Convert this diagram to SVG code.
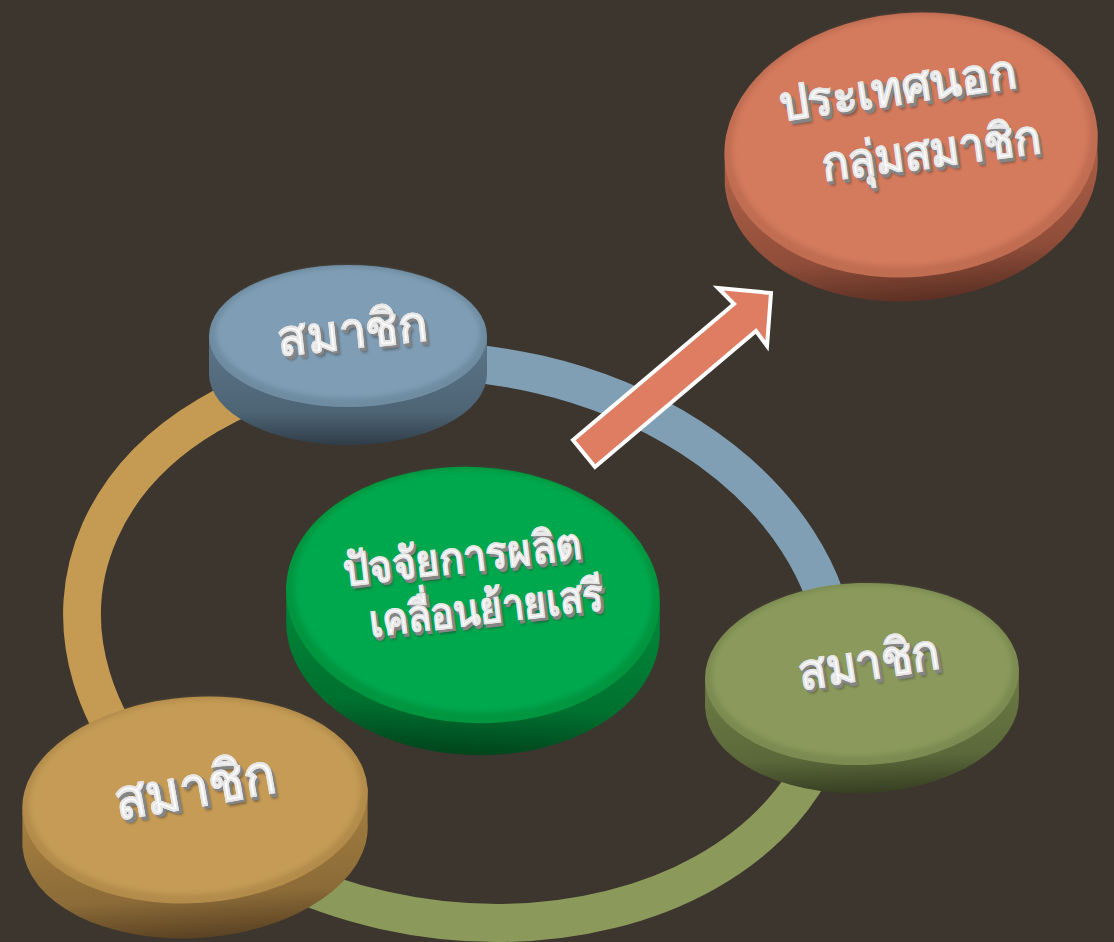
<svg xmlns="http://www.w3.org/2000/svg" width="1114" height="942" viewBox="0 0 1114 942">
  <defs>
    <style>
      .ring { fill: none; stroke-width: 38; stroke-linecap: butt; }
      .lbl { font-family: "Noto Sans", "DejaVu Sans", sans-serif; font-weight: bold; text-anchor: middle; }
      .ds { fill: #2a2a2a; opacity: 0.45; }
      .sh { fill: #858585; stroke: #858585; stroke-width: 1.2; }
      .tx { fill: #ffffff; stroke: #e6e6e6; stroke-width: 0.5; }
    </style>
    <filter id="soft" x="-10%" y="-10%" width="120%" height="120%">
      <feGaussianBlur stdDeviation="2.5"/>
    </filter>
    <filter id="blur1" x="-10%" y="-30%" width="120%" height="160%">
      <feGaussianBlur stdDeviation="1.2"/>
    </filter>
    <linearGradient id="wBlue" x1="0" y1="0" x2="0" y2="1">
      <stop offset="0" stop-color="#5d7688"/><stop offset="0.7" stop-color="#4d6475"/><stop offset="1" stop-color="#303d48"/>
    </linearGradient>
    <linearGradient id="wGold" x1="0" y1="0" x2="0" y2="1">
      <stop offset="0" stop-color="#a5803f"/><stop offset="0.7" stop-color="#8c6b38"/><stop offset="1" stop-color="#5a4223"/>
    </linearGradient>
    <linearGradient id="wOlive" x1="0" y1="0" x2="0" y2="1">
      <stop offset="0" stop-color="#6e7c45"/><stop offset="0.7" stop-color="#5b683a"/><stop offset="1" stop-color="#373f22"/>
    </linearGradient>
    <linearGradient id="wGreen" x1="0" y1="0" x2="0" y2="1">
      <stop offset="0" stop-color="#008a3c"/><stop offset="0.7" stop-color="#00702f"/><stop offset="1" stop-color="#00441c"/>
    </linearGradient>
    <linearGradient id="wOrange" x1="0" y1="0" x2="0" y2="1">
      <stop offset="0" stop-color="#b0624a"/><stop offset="0.7" stop-color="#8f4d39"/><stop offset="1" stop-color="#5c3024"/>
    </linearGradient>
  </defs>

  <rect x="0" y="0" width="1114" height="942" fill="#3d362e"/>

  <g id="connectors">
    <g transform="translate(460,642) rotate(9)">
      <path class="ring" stroke="#809fb5" d="M-117.4,-264.4 A380,278 0 0 1 374.2,-48.3"/>
      <path class="ring" stroke="#8b9a5b" d="M374.2,-48.3 A380,278 0 0 1 -244.3,213"/>
      <path class="ring" stroke="#c59b53" d="M-244.3,213 A380,278 0 0 1 -117.4,-264.4"/>
    </g>
    <polygon id="arrow" points="573,440 734,304 718,288 771,293 767,346 756,331 595,467" fill="#de7d62" stroke="#ffffff" stroke-width="4" stroke-linejoin="miter"/>
  </g>

  <g id="node-blue" transform="translate(348,336)">
    <path fill="url(#wBlue)" d="M139,0 L139,38 A139,71 0 0 1 -139,38 L-139,0 Z"/>
    <ellipse cx="0" cy="0" rx="139" ry="71" fill="#6f8ca1"/>
    <ellipse cx="0" cy="-3" rx="132" ry="65" fill="#7f9db4" filter="url(#soft)"/>
  </g>
  <g id="label-blue" class="lbl" font-size="50" transform="translate(354,348) rotate(-6)">
    <text class="ds" x="3" y="5" textLength="150" lengthAdjust="spacingAndGlyphs" filter="url(#blur1)">สมาชิก</text>
    <text class="sh" x="2" y="3" textLength="150" lengthAdjust="spacingAndGlyphs">สมาชิก</text>
    <text class="tx" x="0" y="0" textLength="150" lengthAdjust="spacingAndGlyphs">สมาชิก</text>
  </g>

  <g id="node-green" transform="translate(473,595) rotate(3)">
    <path fill="url(#wGreen)" d="M187,0 L188.7,32 A187,128 0 0 1 -185.3,32 L-187,0 Z"/>
    <ellipse cx="0" cy="0" rx="187" ry="128" fill="#00963f"/>
    <ellipse cx="0" cy="-4" rx="179" ry="121" fill="#00a84e" filter="url(#soft)"/>
  </g>
  <g id="label-green" class="lbl" font-size="44">
    <g transform="translate(464,572) rotate(-6.5)">
      <text class="ds" x="3" y="5" textLength="240" lengthAdjust="spacingAndGlyphs" filter="url(#blur1)">ปัจจัยการผลิต</text>
      <text class="sh" x="2" y="3" textLength="240" lengthAdjust="spacingAndGlyphs">ปัจจัยการผลิต</text>
      <text class="tx" x="0" y="0" textLength="240" lengthAdjust="spacingAndGlyphs">ปัจจัยการผลิต</text>
    </g>
    <g transform="translate(488,623) rotate(-6.7)">
      <text class="ds" x="3" y="5" textLength="236" lengthAdjust="spacingAndGlyphs" filter="url(#blur1)">เคลื่อนย้ายเสรี</text>
      <text class="sh" x="2" y="3" textLength="236" lengthAdjust="spacingAndGlyphs">เคลื่อนย้ายเสรี</text>
      <text class="tx" x="0" y="0" textLength="236" lengthAdjust="spacingAndGlyphs">เคลื่อนย้ายเสรี</text>
    </g>
  </g>

  <g id="node-gold" transform="translate(195,800) rotate(-4)">
    <path fill="url(#wGold)" d="M173,0 L170.6,34.9 A173,103 0 0 1 -175.4,34.9 L-173,0 Z"/>
    <ellipse cx="0" cy="0" rx="173" ry="103" fill="#b38b4b"/>
    <ellipse cx="0" cy="-3" rx="166" ry="97" fill="#c59b54" filter="url(#soft)"/>
  </g>
  <g id="label-gold" class="lbl" font-size="56" transform="translate(198,806) rotate(-10)">
    <text class="ds" x="3" y="5" textLength="162" lengthAdjust="spacingAndGlyphs" filter="url(#blur1)">สมาชิก</text>
    <text class="sh" x="2" y="3" textLength="162" lengthAdjust="spacingAndGlyphs">สมาชิก</text>
    <text class="tx" x="0" y="0" textLength="162" lengthAdjust="spacingAndGlyphs">สมาชิก</text>
  </g>

  <g id="node-olive" transform="translate(862,674) rotate(-2)">
    <path fill="url(#wOlive)" d="M157,0 L156,28 A157,91 0 0 1 -158,28 L-157,0 Z"/>
    <ellipse cx="0" cy="0" rx="157" ry="91" fill="#7c8b51"/>
    <ellipse cx="0" cy="-3" rx="150" ry="85" fill="#8b9a5c" filter="url(#soft)"/>
  </g>
  <g id="label-olive" class="lbl" font-size="50" transform="translate(871,679) rotate(-8.6)">
    <text class="ds" x="3" y="5" textLength="142" lengthAdjust="spacingAndGlyphs" filter="url(#blur1)">สมาชิก</text>
    <text class="sh" x="2" y="3" textLength="142" lengthAdjust="spacingAndGlyphs">สมาชิก</text>
    <text class="tx" x="0" y="0" textLength="142" lengthAdjust="spacingAndGlyphs">สมาชิก</text>
  </g>

  <g id="node-orange" transform="translate(911,145) rotate(-5)">
    <path fill="url(#wOrange)" d="M187,0 L185,24 A187,132 0 0 1 -189,24 L-187,0 Z"/>
    <ellipse cx="0" cy="0" rx="187" ry="132" fill="#c06d52"/>
    <ellipse cx="0" cy="-4" rx="179" ry="125" fill="#d47a5d" filter="url(#soft)"/>
  </g>
  <g id="label-orange" class="lbl" font-size="48">
    <g transform="translate(900,104) rotate(-8.3)">
      <text class="ds" x="3" y="5" textLength="238" lengthAdjust="spacingAndGlyphs" filter="url(#blur1)">ประเทศนอก</text>
      <text class="sh" x="2" y="3" textLength="238" lengthAdjust="spacingAndGlyphs">ประเทศนอก</text>
      <text class="tx" x="0" y="0" textLength="238" lengthAdjust="spacingAndGlyphs">ประเทศนอก</text>
    </g>
    <g transform="translate(933,167) rotate(-7.4)">
      <text class="ds" x="3" y="5" textLength="220" lengthAdjust="spacingAndGlyphs" filter="url(#blur1)">กลุ่มสมาชิก</text>
      <text class="sh" x="2" y="3" textLength="220" lengthAdjust="spacingAndGlyphs">กลุ่มสมาชิก</text>
      <text class="tx" x="0" y="0" textLength="220" lengthAdjust="spacingAndGlyphs">กลุ่มสมาชิก</text>
    </g>
  </g>
</svg>
